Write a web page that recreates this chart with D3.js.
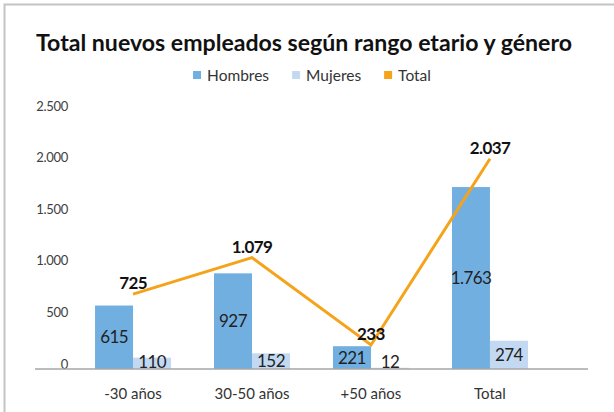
<!DOCTYPE html>
<html>
<head>
<meta charset="utf-8">
<script src="https://cdn.jsdelivr.net/npm/d3@7"></script>
<style>
  html, body { margin: 0; padding: 0; background: #fff; }
  svg { display: block; font-family: Lato, "Open Sans", sans-serif; }
</style>
</head>
<body>
<svg id="chart" width="614" height="412"></svg>
<script>
const categories = ["-30 años", "30-50 años", "+50 años", "Total"];
const hombres = [615, 927, 221, 1763];
const mujeres = [110, 152, 12, 274];
const total = [725, 1079, 233, 2037];
const yTicks = [0, 500, 1000, 1500, 2000, 2500];
const seriesNames = ["Hombres", "Mujeres", "Total"];
const colors = { Hombres: "#72AFE1", Mujeres: "#C3D9F2", Total: "#F5A31A" };
const title = "Total nuevos empleados según rango etario y género";

const locale = d3.formatLocale({ decimal: ",", thousands: ".", grouping: [3], currency: ["$", ""] });
const fmt = locale.format(",d");

const svg = d3.select("#chart");

// frame
svg.append("rect").attr("x", 4.5).attr("y", 4.5).attr("width", 700).attr("height", 500)
  .attr("fill", "none").attr("stroke", "#c4c4c4").attr("stroke-width", 2);

// title
svg.append("text").attr("x", 36).attr("y", 50.5)
  .attr("font-size", 22.5).attr("font-weight", 700).attr("fill", "#111")
  .attr("textLength", 536).attr("lengthAdjust", "spacingAndGlyphs")
  .text(title);

// scales
const y = d3.scaleLinear().domain([0, 2500]).range([369, 111]);
const x = d3.scalePoint().domain(categories).range([35, 588]).padding(0.824);
const sub = d3.scaleBand().domain(["Hombres", "Mujeres"]).range([-38, 38]);

// legend
const legend = svg.append("g");
let lx = 0;
seriesNames.forEach((name, i) => {
  const g = legend.append("g").attr("transform", `translate(${lx},0)`);
  g.append("rect").attr("x", 0).attr("y", 71).attr("width", 8).attr("height", 8).attr("fill", colors[name]);
  const t = g.append("text").attr("x", 14).attr("y", 80.5).attr("font-size", 15.5).attr("fill", "#333").text(name);
  lx += 14 + t.node().getComputedTextLength() + 23;
});
const legendWidth = lx - 23;
legend.attr("transform", `translate(${312 - legendWidth / 2},0)`);

// y axis labels
svg.append("g").selectAll("text").data(yTicks).join("text")
  .attr("x", 68).attr("y", d => y(d) - 0.5)
  .attr("text-anchor", "end").attr("font-size", 13).attr("fill", "#404040")
  .attr("letter-spacing", -0.3)
  .text(d => fmt(d));

// bars
const barData = [];
categories.forEach((c, i) => {
  barData.push({ cat: c, series: "Hombres", value: hombres[i] });
  barData.push({ cat: c, series: "Mujeres", value: mujeres[i] });
});
svg.append("g").selectAll("rect").data(barData).join("rect")
  .attr("x", d => x(d.cat) + sub(d.series))
  .attr("y", d => y(d.value))
  .attr("width", sub.bandwidth())
  .attr("height", d => y(0) - y(d.value))
  .attr("fill", d => colors[d.series]);

// baseline
svg.append("line").attr("x1", 35).attr("x2", 588).attr("y1", y(0)).attr("y2", y(0))
  .attr("stroke", "#a6a6a6").attr("stroke-width", 1.5);

// bar value labels
svg.append("g").selectAll("text").data(barData).join("text")
  .attr("x", d => x(d.cat) + sub(d.series) + sub.bandwidth() / 2)
  .attr("y", d => Math.min((y(d.value) + y(0)) / 2, y(0) - 7) + 6)
  .attr("text-anchor", "middle").attr("font-size", 17).attr("fill", "#222")
  .attr("letter-spacing", -0.6)
  .text(d => fmt(d.value));

// x axis labels
svg.append("g").selectAll("text").data(categories).join("text")
  .attr("x", d => x(d)).attr("y", 399)
  .attr("text-anchor", "middle").attr("font-size", 15).attr("fill", "#333")
  .text(d => d);

// total line
const lineData = categories.map((c, i) => ({ cat: c, value: total[i] }));
svg.append("path").datum(lineData)
  .attr("d", d3.line().x(d => x(d.cat)).y(d => y(d.value)))
  .attr("fill", "none").attr("stroke", colors.Total).attr("stroke-width", 3)
  .attr("stroke-linejoin", "miter");

svg.append("g").selectAll("text").data(lineData).join("text")
  .attr("x", d => x(d.cat)).attr("y", d => y(d.value) - 5)
  .attr("text-anchor", "middle").attr("font-size", 17).attr("font-weight", 700)
  .attr("fill", "#111").attr("letter-spacing", -0.6)
  .text(d => fmt(d.value));
</script>
</body>
</html>
